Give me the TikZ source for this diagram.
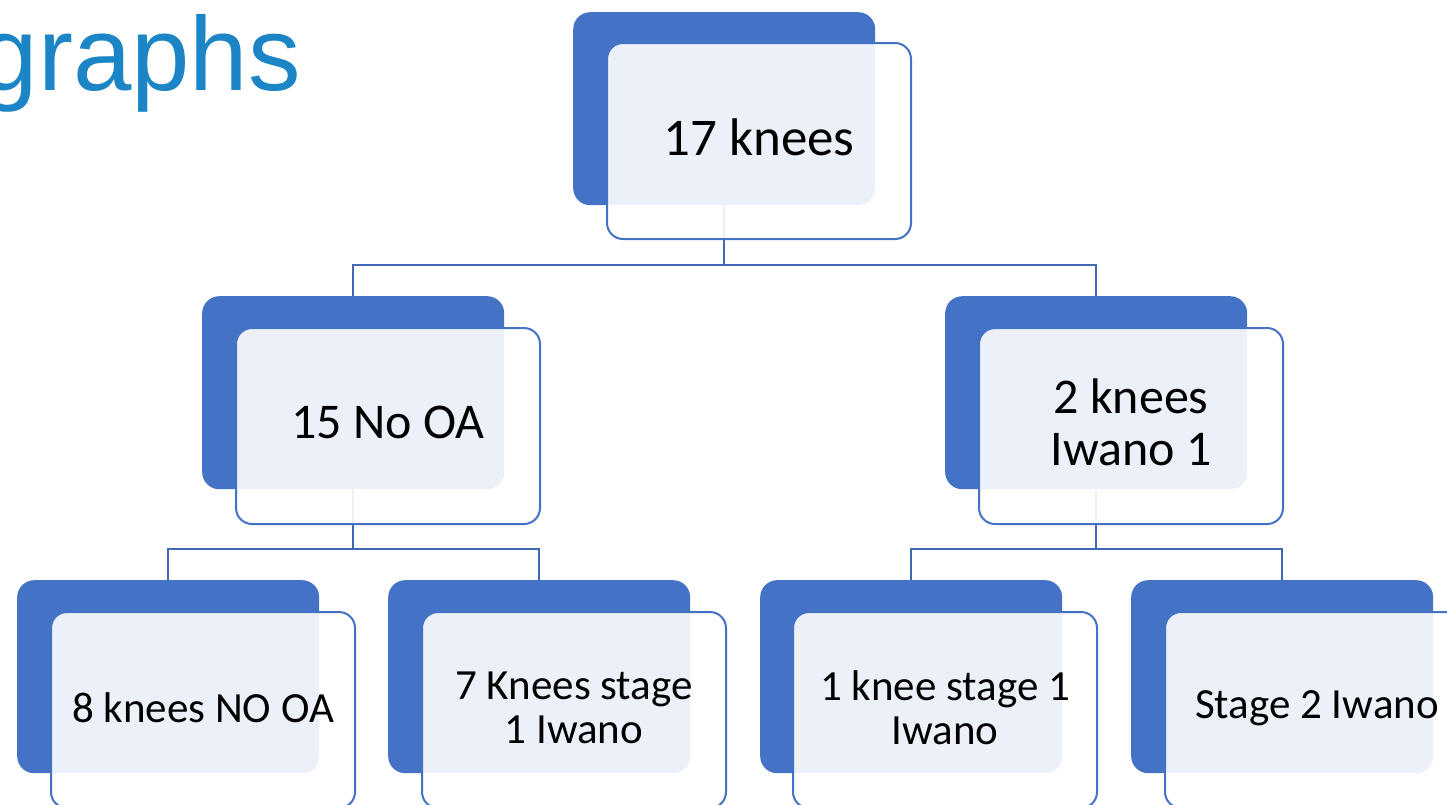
\documentclass[tikz,border=0pt]{standalone}
\usepackage{fontspec}
\setmainfont{Carlito}
\newfontfamily\titlefont{Liberation Sans}
\definecolor{accent}{RGB}{68,114,196}
\definecolor{linkc}{RGB}{66,104,180}
\definecolor{titleblue}{RGB}{27,133,197}
\begin{document}
\begin{tikzpicture}[x=1pt,y=-1pt,
  darkbox/.style={fill=accent, rounded corners=17pt, minimum width=302pt, minimum height=193pt, inner sep=0pt, anchor=north west},
  lightbox/.style={draw=accent, line width=2pt, fill=white, fill opacity=0.9, rounded corners=16pt, minimum width=304pt, minimum height=196pt, inner sep=0pt, anchor=north west},
  boxtext/.style={align=center, text=black, inner sep=0pt},
  topfont/.style={boxtext, font=\fontsize{53}{52}\selectfont, yshift=4pt},
  midfont/.style={boxtext, font=\fontsize{50}{52}\selectfont, yshift=4pt},
  lowfont/.style={boxtext, font=\fontsize{43}{44}\selectfont, yshift=2pt},
  link/.style={draw=linkc, line width=2pt}]
\useasboundingbox (0,0) rectangle (1447,804);
\clip (0,0) rectangle (1447,804);
\fill[white] (0,0) rectangle (1447,804);

\node[font=\titlefont\fontsize{105}{105}\selectfont, text=titleblue, anchor=base east, inner sep=0pt] (title) at (301,90) {graphs};

% dark boxes
\node[darkbox] (d0) at (573,12) {};
\node[darkbox] (d1) at (202,296) {};
\node[darkbox] (d2) at (945,296) {};
\node[darkbox] (d3) at (17,580) {};
\node[darkbox] (d4) at (388,580) {};
\node[darkbox] (d5) at (760,580) {};
\node[darkbox] (d6) at (1131,580) {};

% connectors
\coordinate (h0) at (0,265);
\coordinate (h1) at (0,549);
\draw[link] (d0.south) -- (d0.south |- h0);
\draw[link] (d1.north) |- (d0.south |- h0) -| (d2.north);
\draw[link] (d1.south) -- (d1.south |- h1);
\draw[link] (d3.north) |- (d1.south |- h1) -| (d4.north);
\draw[link] (d2.south) -- (d2.south |- h1);
\draw[link] (d5.north) |- (d2.south |- h1) -| (d6.north);

% light boxes
\node[lightbox] (l0) at (606,42) {};
\node[lightbox] (l1) at (235,327) {};
\node[lightbox] (l2) at (978,327) {};
\node[lightbox] (l3) at (50,611) {};
\node[lightbox] (l4) at (421,611) {};
\node[lightbox] (l5) at (792,611) {};
\node[lightbox] (l6) at (1164,611) {};

% texts
\node[topfont] (t0) at (l0.center) {17 knees};
\node[midfont] (t1) at (l1.center) {15 No OA};
\node[midfont] (t2) at (l2.center) {2 knees\\Iwano 1};
\node[lowfont] (t3) at (l3.center) {8 knees NO OA};
\node[lowfont] (t4) at (l4.center) {7 Knees stage\\1 Iwano};
\node[lowfont] (t5) at (l5.center) {1 knee stage 1\\Iwano};
\node[lowfont] (t6) at (l6.center) {Stage 2 Iwano};
\end{tikzpicture}
\end{document}
